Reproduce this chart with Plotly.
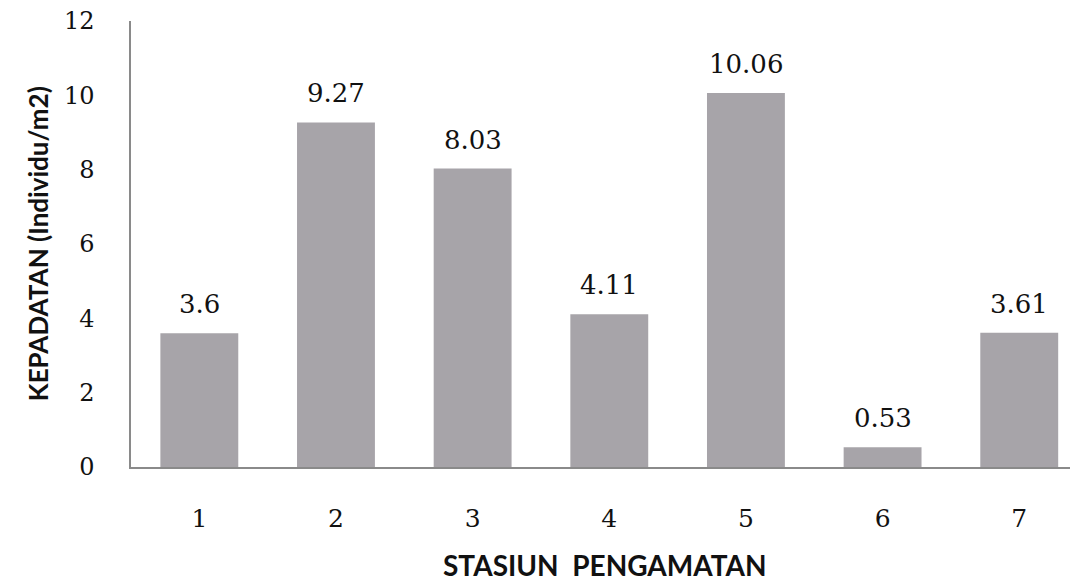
import plotly.graph_objects as go

stations = ["1", "2", "3", "4", "5", "6", "7"]
density = [3.6, 9.27, 8.03, 4.11, 10.06, 0.53, 3.61]
labels = ["3.6", "9.27", "8.03", "4.11", "10.06", "0.53", "3.61"]
y_ticks = [0, 2, 4, 6, 8, 10, 12]
x_title = "STASIUN  PENGAMATAN"
y_title = "KEPADATAN (Individu/m2)"

fig = go.Figure()
fig.add_trace(go.Bar(
    x=stations, y=density,
    marker=dict(color="#a7a4a9", line=dict(width=0)),
    hoverinfo="skip",
))

for i, (v, t) in enumerate(zip(density, labels)):
    fig.add_annotation(
        x=i, y=v, xref="x", yref="y", text=t, showarrow=False,
        yanchor="bottom", yshift=12,
        font=dict(family="DejaVu Serif", size=26, color="#111111"),
    )

fig.add_annotation(
    x=0.5, y=-0.22, xref="paper", yref="paper", text=x_title,
    showarrow=False, xanchor="center", yanchor="middle",
    font=dict(family="Lato", size=28, color="#111111", weight="bold"),
)
fig.add_annotation(
    x=-0.098, y=0.5, xref="paper", yref="paper", text=y_title,
    showarrow=False, textangle=-90, xanchor="center", yanchor="middle",
    font=dict(family="Lato", size=26, color="#111111", weight="bold"),
)

fig.update_layout(
    width=1078, height=585,
    margin=dict(l=123, r=8, t=13, b=126, autoexpand=False),
    paper_bgcolor="white", plot_bgcolor="white",
    bargap=0.43,
    showlegend=False,
    font=dict(family="DejaVu Serif", color="#111111"),
)

fig.update_xaxes(
    type="category",
    range=[-0.5, 6.43],
    automargin=False,
    showline=True, linecolor="#8a8a8a", linewidth=1.5,
    showgrid=False, zeroline=False,
    ticks="", ticklabelstandoff=28,
    tickfont=dict(family="DejaVu Serif", size=25, color="#111111"),
)

fig.update_yaxes(
    range=[0, 12],
    automargin=False,
    tickvals=y_ticks, ticktext=[str(v) for v in y_ticks],
    showline=True, linecolor="#8a8a8a", linewidth=1.5,
    showgrid=False, zeroline=False,
    ticks="", ticklabelstandoff=30, ticklabeloverflow="allow",
    tickfont=dict(family="DejaVu Serif", size=24, color="#111111"),
)

fig.write_html("out.html")
